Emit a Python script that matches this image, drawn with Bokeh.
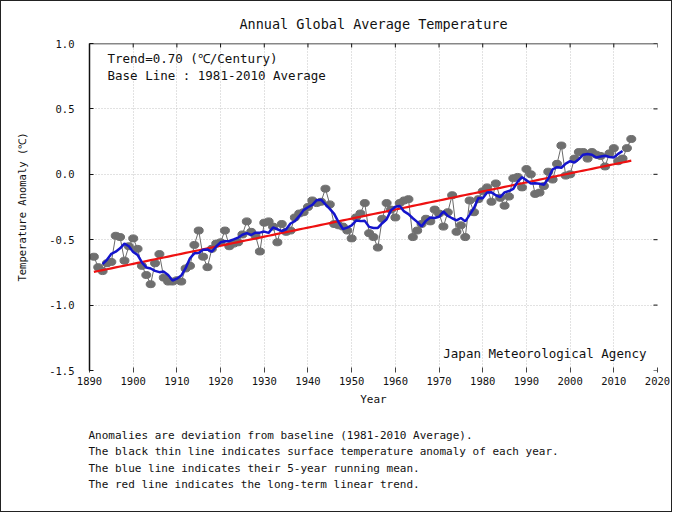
import numpy as np
from bokeh.plotting import figure
from bokeh.models import Label, Title, FixedTicker, NumeralTickFormatter, Span
from bokeh.embed import file_html
from bokeh.resources import INLINE

# ---------------- data ----------------
years = list(range(1891, 2015))
anomaly = [
    -0.63, -0.71, -0.74, -0.68, -0.67, -0.47, -0.48, -0.66, -0.55, -0.49,   # 1891-1900
    -0.57, -0.70, -0.77, -0.84, -0.68, -0.61, -0.79, -0.82, -0.82, -0.81,   # 1901-1910
    -0.82, -0.72, -0.70, -0.54, -0.43, -0.63, -0.71, -0.57, -0.53, -0.52,   # 1911-1920
    -0.43, -0.55, -0.53, -0.52, -0.46, -0.36, -0.44, -0.47, -0.59, -0.37,   # 1921-1930
    -0.36, -0.40, -0.52, -0.38, -0.44, -0.43, -0.33, -0.30, -0.29, -0.25,   # 1931-1940
    -0.20, -0.22, -0.21, -0.11, -0.23, -0.38, -0.39, -0.40, -0.43, -0.49,   # 1941-1950
    -0.33, -0.30, -0.22, -0.45, -0.48, -0.56, -0.34, -0.22, -0.27, -0.33,   # 1951-1960
    -0.22, -0.20, -0.19, -0.48, -0.43, -0.38, -0.34, -0.36, -0.27, -0.30,   # 1961-1970
    -0.40, -0.29, -0.16, -0.44, -0.39, -0.48, -0.20, -0.29, -0.19, -0.13,   # 1971-1980
    -0.10, -0.21, -0.07, -0.18, -0.24, -0.17, -0.03, -0.02, -0.10, 0.04,    # 1981-1990
    0.00, -0.15, -0.14, -0.09, 0.02, -0.04, 0.08, 0.22, -0.01, 0.00,        # 1991-2000
    0.12, 0.17, 0.17, 0.12, 0.17, 0.15, 0.14, 0.06, 0.16, 0.20,             # 2001-2010
    0.10, 0.12, 0.20, 0.27,                                                 # 2011-2014
]
x_ticks = [1890, 1900, 1910, 1920, 1930, 1940, 1950, 1960, 1970, 1980, 1990, 2000, 2010, 2020]
y_ticks = [-1.5, -1.0, -0.5, 0.0, 0.5, 1.0]

title_text = "Annual Global Average Temperature"
trend_text = "Trend=0.70 (\u2103/Century)"
base_text = "Base Line : 1981-2010 Average"
agency_text = "Japan Meteorological Agency"
x_label = "Year"
y_label = "Temperature Anomaly (\u2103)"
notes = [
    "Anomalies are deviation from baseline (1981-2010 Average).",
    "The black thin line indicates surface temperature anomaly of each year.",
    "The blue line indicates their 5-year running mean.",
    "The red line indicates the long-term linear trend.",
]

# derived series
yrs = np.array(years, dtype=float)
vals = np.array(anomaly, dtype=float)
run_mean = np.convolve(vals, np.ones(5) / 5.0, mode="valid")
run_years = yrs[2:-2]
slope, intercept = np.polyfit(yrs, vals, 1)
trend_vals = slope * yrs + intercept

# ---------------- layout ----------------
FONT = "DejaVu Sans Mono"
X0, X1 = 1890, 2020
Y0, Y1 = -1.5, 1.0
W, H = 672, 512
OFF = 1                                  # canvas offset on the page (border)
FL, FR, FT, FB = 89, 657, 43, 370        # frame edges in page pixels

def dx(px):
    return X0 + (px - FL) * (X1 - X0) / (FR - FL)

def dy(py):
    return Y1 - (py - FT) * (Y1 - Y0) / (FB - FT)

p = figure(width=W, height=H, x_range=(X0, X1), y_range=(Y0, Y1),
           output_backend="svg", toolbar_location=None,
           min_border_left=FL - OFF, min_border_right=W - (FR - OFF),
           min_border_top=FT - OFF, min_border_bottom=H - (FB - OFF))
p.outline_line_color = None
p.background_fill_color = "white"
p.border_fill_color = "white"
p.styles = {"border": "1px solid #222"}

p.title.text = title_text
p.title.align = "center"
p.title.text_font = FONT
p.title.text_font_size = "13.5px"
p.title.text_font_style = "normal"
p.title.text_color = "#111111"
p.title.standoff = 23

# axes
xa = p.xaxis[0]
xa.ticker = FixedTicker(ticks=x_ticks)
xa.axis_line_color = None
xa.major_tick_in = 3
xa.major_tick_out = 2
xa.major_tick_line_color = "#444444"
xa.minor_tick_line_color = None
xa.major_label_text_font = FONT
xa.major_label_text_font_size = "10.5px"
xa.major_label_text_color = "#111111"
xa.major_label_standoff = 4
xa.axis_label = x_label
xa.axis_label_text_font = FONT
xa.axis_label_text_font_size = "11px"
xa.axis_label_text_font_style = "normal"
xa.axis_label_text_color = "#111111"
xa.axis_label_standoff = 5

ya = p.yaxis[0]
ya.ticker = FixedTicker(ticks=y_ticks)
ya.formatter = NumeralTickFormatter(format="0.0")
ya.axis_line_color = "#111111"
ya.axis_line_width = 1.5
ya.major_tick_in = 4
ya.major_tick_out = 0
ya.major_tick_line_color = "#111111"
ya.minor_tick_line_color = None
ya.major_label_text_font = FONT
ya.major_label_text_font_size = "10.5px"
ya.major_label_text_color = "#111111"
ya.major_label_standoff = 15
ya.axis_label = y_label
ya.axis_label_text_font = FONT
ya.axis_label_text_font_size = "10.5px"
ya.axis_label_text_font_style = "normal"
ya.axis_label_text_color = "#111111"
ya.axis_label_standoff = 18

# top frame line and inner ticks on top / right edges
p.add_layout(Span(location=Y1, dimension="width", line_color="#111111", line_width=1.5))
p.scatter(x_ticks, [Y1] * len(x_ticks), marker="dash", angle=np.pi / 2, size=8,
          line_color="#111111", line_width=1)
p.scatter([X1] * len(y_ticks), y_ticks, marker="dash", size=8,
          line_color="#111111", line_width=1)

# grid
p.xgrid.ticker = FixedTicker(ticks=x_ticks)
p.ygrid.ticker = FixedTicker(ticks=y_ticks)
for g in (p.xgrid[0], p.ygrid[0]):
    g.grid_line_color = "#c4c4c4"
    g.grid_line_dash = "1 2"
    g.grid_line_width = 1

# data glyphs
p.line(yrs, vals, line_color="#6a6a6a", line_width=1)
p.ellipse(yrs, vals, width=9, height=7, width_units="screen", height_units="screen",
          fill_color="#6f6f6f", line_color="#6f6f6f")
p.line(yrs, trend_vals, line_color="#ee1111", line_width=2.2)
p.line(run_years, run_mean, line_color="#1414cc", line_width=2.5)

# texts inside the frame
def add_label(text, px, py, size, align="left"):
    p.add_layout(Label(x=dx(px), y=dy(py), text=text, text_font=FONT,
                       text_font_size=size, text_color="#111111",
                       text_align=align, text_baseline="middle"))

add_label(trend_text, 107, 58, "12.5px")
add_label(base_text, 107, 75, "12.5px")
add_label(agency_text, 646, 353, "12.5px", "right")

# notes below the chart (one multi-line title)
p.add_layout(Title(text="\n".join(notes), align="left", offset=-1, text_font=FONT,
                   text_font_size="11px", text_font_style="normal",
                   text_line_height=1.28, text_color="#111111", standoff=36), "below")

open("out.html", "w").write(file_html(p, INLINE))
